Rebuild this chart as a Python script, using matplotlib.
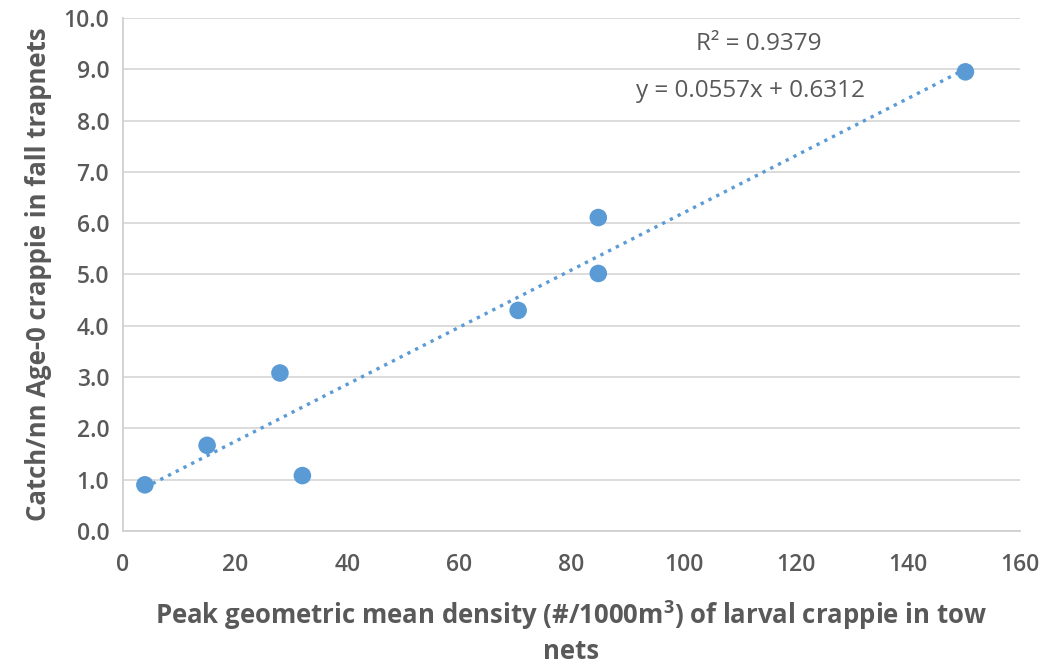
import matplotlib
matplotlib.use("Agg")
import matplotlib.pyplot as plt
import numpy as np

# Data
density = [3.9, 15.0, 28.0, 32.0, 70.5, 84.8, 84.8, 150.3]
catch = [0.90, 1.67, 3.08, 1.08, 4.30, 6.11, 5.02, 8.95]
slope = 0.0557
intercept = 0.6312
r2 = 0.9379
xticks = [0, 20, 40, 60, 80, 100, 120, 140, 160]
yticks = [0, 1, 2, 3, 4, 5, 6, 7, 8, 9, 10]

plt.rcParams['font.family'] = ['Open Sans', 'DejaVu Sans']
gray = '#595959'
blue = '#5B9BD5'

fig = plt.figure(figsize=(10.47, 6.66), dpi=100)
ax = fig.add_axes([0.1175, 0.2027, 0.8565, 0.7703])

xs = np.array([min(density), max(density)])
ax.plot(xs, slope * xs + intercept, color=blue, linewidth=2.4,
        linestyle=(0, (1, 1.6)), dash_capstyle='butt', zorder=2)
ax.scatter(density, catch, s=160, color=blue, edgecolors='none', zorder=3)

ax.set_xlim(0, 160)
ax.set_ylim(0, 10)
ax.set_xticks(xticks)
ax.set_yticks(yticks)
ax.set_xticklabels([str(v) for v in xticks])
ax.set_yticklabels([f"{v:.1f}" for v in yticks])
ax.tick_params(axis='x', length=0, labelsize=16.5, labelcolor=gray, pad=16)
ax.tick_params(axis='y', length=0, labelsize=16.5, labelcolor=gray, pad=10)
for lab in ax.get_xticklabels() + ax.get_yticklabels():
    lab.set_fontweight('semibold')

ax.grid(axis='y', color='#d9d9d9', linewidth=1.3)
ax.set_axisbelow(True)
for s in ['top', 'right']:
    ax.spines[s].set_visible(False)
for s in ['left', 'bottom']:
    ax.spines[s].set_color('#d0d0d0')
    ax.spines[s].set_linewidth(1.3)

ax.set_xlabel("Peak geometric mean density (#/1000m$^\\mathregular{3}$) of larval crappie in tow\nnets",
              fontsize=18.5, fontweight='bold', color=gray, labelpad=15, linespacing=1.3)
ax.set_ylabel("Catch/nn Age-0 crappie in fall trapnets", fontsize=18.5,
              fontweight='bold', color=gray, labelpad=8)

ax.text(113.5, 9.49, f"R² = {r2:.4f}", ha='center', va='center', fontsize=17.5, color=gray)
ax.text(112, 8.57, f"y = {slope:.4f}x + {intercept:.4f}", ha='center', va='center',
        fontsize=17.5, color=gray)

fig.savefig("out.png", dpi=100)
